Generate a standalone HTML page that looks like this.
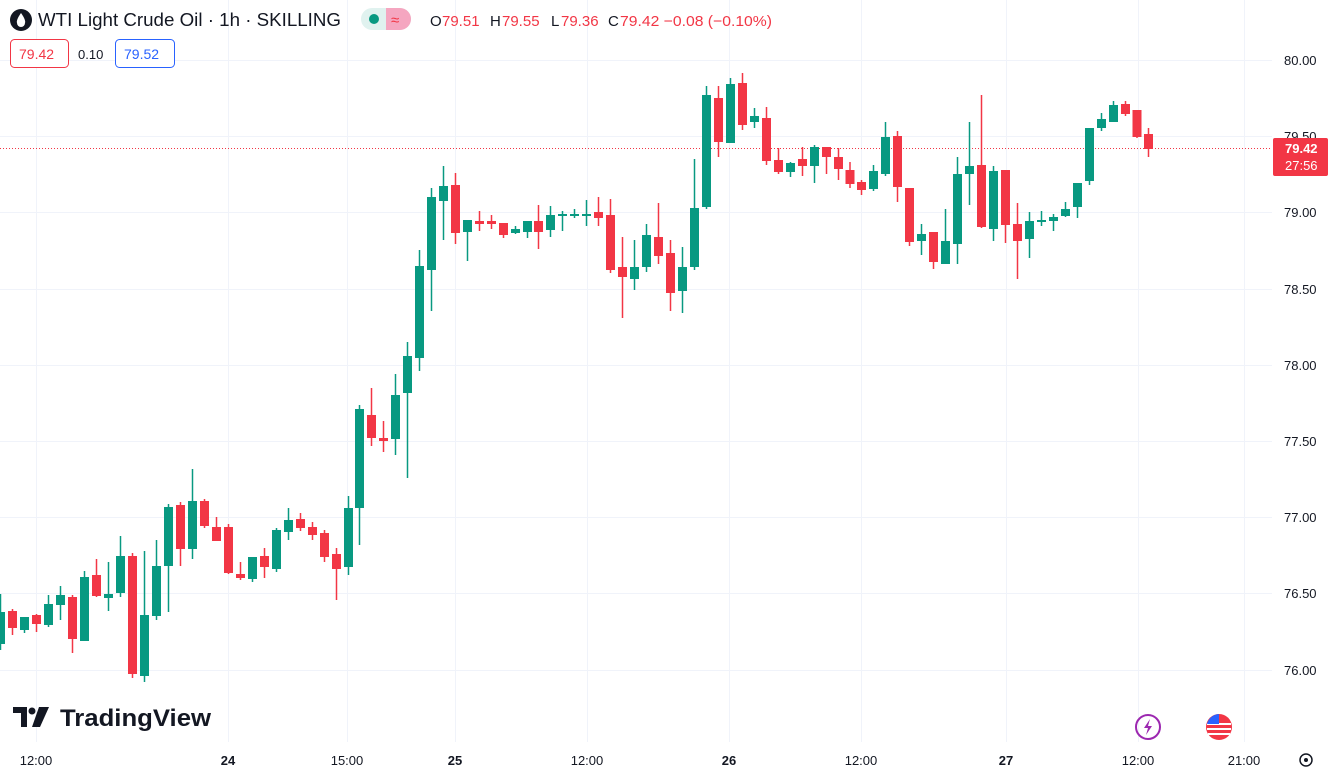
<!DOCTYPE html>
<html><head><meta charset="utf-8"><style>
body{margin:0;width:1340px;height:776px;overflow:hidden;background:#fff;font-family:"Liberation Sans",sans-serif;}
svg{position:absolute;left:0;top:0}
</style></head><body>
<svg width="1340" height="776" xmlns="http://www.w3.org/2000/svg" font-family="Liberation Sans, sans-serif">
<g stroke="#f0f3fa" stroke-width="1">
<line x1="0" x2="1272" y1="60.5" y2="60.5"/><line x1="0" x2="1272" y1="136.5" y2="136.5"/><line x1="0" x2="1272" y1="212.5" y2="212.5"/><line x1="0" x2="1272" y1="289.5" y2="289.5"/><line x1="0" x2="1272" y1="365.5" y2="365.5"/><line x1="0" x2="1272" y1="441.5" y2="441.5"/><line x1="0" x2="1272" y1="517.5" y2="517.5"/><line x1="0" x2="1272" y1="593.5" y2="593.5"/><line x1="0" x2="1272" y1="670.5" y2="670.5"/>
<line y1="0" y2="742" x1="36.5" x2="36.5"/><line y1="0" y2="742" x1="228.5" x2="228.5"/><line y1="0" y2="742" x1="347.5" x2="347.5"/><line y1="0" y2="742" x1="455.5" x2="455.5"/><line y1="0" y2="742" x1="587.5" x2="587.5"/><line y1="0" y2="742" x1="729.5" x2="729.5"/><line y1="0" y2="742" x1="861.5" x2="861.5"/><line y1="0" y2="742" x1="1006.5" x2="1006.5"/><line y1="0" y2="742" x1="1138.5" x2="1138.5"/><line y1="0" y2="742" x1="1244.5" x2="1244.5"/>
</g>
<line x1="0" x2="1272" y1="148.5" y2="148.5" stroke="#f23645" stroke-dasharray="1,2"/>
<g id="c"></g>
<g font-size="13" fill="#131722">
<text x="1284" y="65">80.00</text><text x="1284" y="141">79.50</text><text x="1284" y="217">79.00</text><text x="1284" y="294">78.50</text><text x="1284" y="370">78.00</text><text x="1284" y="446">77.50</text><text x="1284" y="522">77.00</text><text x="1284" y="598">76.50</text><text x="1284" y="675">76.00</text>
</g>
<rect x="1273" y="138" width="55" height="38" rx="2" fill="#f23645"/>
<text x="1285" y="153" font-size="13" fill="#fff" font-weight="bold">79.42</text>
<text x="1285" y="170" font-size="13" fill="#fff">27:56</text>
<g font-size="13" fill="#131722" text-anchor="middle">
<text x="36" y="765">12:00</text><text x="228" y="765" font-weight="bold">24</text><text x="347" y="765">15:00</text><text x="455" y="765" font-weight="bold">25</text><text x="587" y="765">12:00</text><text x="729" y="765" font-weight="bold">26</text><text x="861" y="765">12:00</text><text x="1006" y="765" font-weight="bold">27</text><text x="1138" y="765">12:00</text><text x="1244" y="765">21:00</text>
</g>
<circle cx="1306" cy="760" r="6" fill="none" stroke="#131722" stroke-width="1.5"/><circle cx="1306" cy="760" r="2" fill="#131722"/>
<circle cx="21" cy="20" r="11" fill="#131722"/><path d="M21 13 Q16 20 17 23 A4 4 0 0 0 25 23 Q26 20 21 13Z" fill="#fff"/>
<text x="38" y="26" font-size="18.5" fill="#131722" textLength="303" lengthAdjust="spacingAndGlyphs">WTI Light Crude Oil · 1h · SKILLING</text>
<rect x="361" y="8" width="50" height="22" rx="11" fill="#e0f2ef"/><path d="M386 8 h14 a11 11 0 0 1 0 22 h-14z" fill="#f5a6c0"/>
<circle cx="374" cy="19" r="5" fill="#089981"/><text x="391" y="25" font-size="15" fill="#f23645">≈</text>
<g font-size="15"><text x="430" y="26" fill="#131722">O</text><text x="442" y="26" fill="#f23645">79.51</text><text x="490" y="26" fill="#131722">H</text><text x="502" y="26" fill="#f23645">79.55</text><text x="551" y="26" fill="#131722">L</text><text x="561" y="26" fill="#f23645">79.36</text><text x="608" y="26" fill="#131722">C</text><text x="620" y="26" fill="#f23645" textLength="152" lengthAdjust="spacingAndGlyphs">79.42 −0.08 (−0.10%)</text></g>
<rect x="10.5" y="39.5" width="58" height="28" rx="4" fill="#fff" stroke="#f23645"/><text x="19" y="59" font-size="14" fill="#f23645">79.42</text>
<text x="78" y="59" font-size="13" fill="#131722">0.10</text>
<rect x="115.5" y="39.5" width="59" height="28" rx="4" fill="#fff" stroke="#2962ff"/><text x="124" y="59" font-size="14" fill="#2962ff">79.52</text>
<path d="M13 707h14v20h-6v-14h-8z" fill="#131722"/><circle cx="32" cy="711" r="3.5" fill="#131722"/><path d="M39 707h10l-9 20h-8z" fill="#131722"/>
<text x="60" y="726" font-size="24" font-weight="bold" fill="#131722" textLength="151" lengthAdjust="spacingAndGlyphs">TradingView</text>
<circle cx="1148" cy="727" r="12" fill="none" stroke="#9c27b0" stroke-width="2"/><path d="M1150 719l-6 9h4l-2 7 6-9h-4z" fill="#9c27b0"/>
<circle cx="1219" cy="727" r="13" fill="#f23645"/><rect x="1207" y="723" width="24" height="2" fill="#fff"/><rect x="1207" y="728" width="24" height="2" fill="#fff"/><rect x="1208" y="733" width="22" height="2" fill="#fff"/><path d="M1207 724a13 13 0 0 1 12-10v10z" fill="#2962ff"/>
</svg>
<script>
var d=[[0.5,612,644,594,650,1],[12.5,611,628,609,635,0],[24.5,617,630,617,633,1],[36.5,615,624,614,632,0],[48.5,604,625,595,627,1],[60.5,595,605,586,620,1],[72.5,597,639,595,653,0],[84.5,577,641,571,641,1],[96.5,575,596,559,597,0],[108.5,594,598,562,611,1],[120.5,556,593,536,597,1],[132.5,556,674,553,678,0],[144.5,615,676,551,682,1],[156.5,566,616,540,620,1],[168.5,507,566,504,612,1],[180.5,505,549,502,566,0],[192.5,501,549,469,559,1],[204.5,501,526,499,528,0],[216.5,527,541,517,541,0],[228.5,527,573,524,574,0],[240.5,574,578,562,580,0],[252.5,557,579,557,582,1],[264.5,556,567,548,578,0],[276.5,530,569,528,572,1],[288.5,520,532,508,540,1],[300.5,519,528,513,531,0],[312.5,527,535,522,540,0],[324.5,533,557,530,562,0],[336.5,554,569,548,600,0],[348.5,508,567,496,575,1],[359.5,409,508,405,545,1],[371.5,415,438,388,446,0],[383.5,438,441,421,452,0],[395.5,395,439,374,455,1],[407.5,356,393,342,478,1],[419.5,266,358,250,371,1],[431.5,197,270,188,311,1],[443.5,186,201,166,240,1],[455.5,185,233,173,244,0],[467.5,220,232,220,261,1],[479.5,221,224,211,231,0],[491.5,221,224,215,229,0],[503.5,223,235,223,238,0],[515.5,229,233,226,234,1],[527.5,221,232,221,238,1],[538.5,221,232,205,249,0],[550.5,215,230,206,237,1],[562.5,214,215,211,231,1],[574.5,214,216,209,218,1],[586.5,214,216,200,226,1],[598.5,212,218,197,226,0],[610.5,215,270,199,273,0],[622.5,267,277,237,318,0],[634.5,267,279,240,290,1],[646.5,235,267,224,272,1],[658.5,237,256,203,264,0],[670.5,253,293,240,311,0],[682.5,267,291,247,313,1],[694.5,208,267,159,270,1],[706.5,95,207,86,209,1],[718.5,98,142,86,157,0],[730.5,84,143,78,143,1],[742.5,83,125,73,130,0],[754.5,116,122,108,128,1],[766.5,118,161,107,165,0],[778.5,160,172,148,174,0],[790.5,163,172,162,177,1],[802.5,159,166,147,176,0],[814.5,147,166,145,183,1],[826.5,147,157,147,174,0],[838.5,157,169,148,180,0],[850,170,184,162,188,0],[861.5,182,190,180,195,0],[873.5,171,189,165,191,1],[885.5,137,174,122,176,1],[897.5,136,187,131,202,0],[909.5,188,242,188,246,0],[921.5,234,241,224,255,1],[933.5,232,262,232,269,0],[945.5,241,264,209,264,1],[957.5,174,244,157,264,1],[969.5,166,174,122,205,1],[981.5,165,227,95,228,0],[993.5,171,229,166,241,1],[1005.5,170,225,170,243,0],[1017.5,224,241,203,279,0],[1029.5,221,239,212,258,1],[1041.5,220,221,211,226,1],[1053.5,217,221,214,231,1],[1065.5,209,216,202,217,1],[1077.5,183,207,183,218,1],[1089.5,128,181,128,185,1],[1101.5,119,128,113,131,1],[1113.5,105,122,101,122,1],[1125.5,104,114,101,116,0],[1137,110,137,110,138,0],[1148.5,134,149,128,157,0]];
var s='';d.forEach(function(c){var col=c[5]?'#089981':'#f23645';var h=Math.max(2,c[2]-c[1]);s+='<line x1="'+c[0]+'" x2="'+c[0]+'" y1="'+c[3]+'" y2="'+c[4]+'" stroke="'+col+'" stroke-width="1.5"/><rect x="'+(c[0]-4.5)+'" y="'+c[1]+'" width="9" height="'+h+'" fill="'+col+'"/>';});
document.getElementById('c').innerHTML=s;
</script>
</body></html>
